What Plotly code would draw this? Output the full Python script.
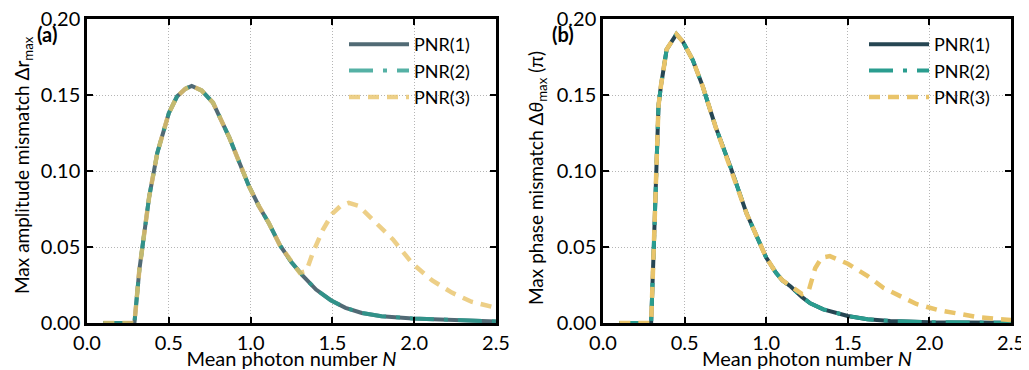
import plotly.graph_objects as go

# ---------------- data ----------------
# Panel (a): max amplitude mismatch
a_N12 = [0.10, 0.20, 0.29, 0.32, 0.35, 0.38, 0.43, 0.50, 0.55, 0.60, 0.64, 0.70, 0.77, 0.87,
         0.93, 0.99, 1.05, 1.11, 1.18, 1.25, 1.32, 1.40, 1.49, 1.58, 1.68, 1.80, 1.99, 2.20, 2.50]
a_pnr1 = [0.0, 0.0, 0.0, 0.035, 0.060, 0.083, 0.112, 0.138, 0.149, 0.154, 0.156, 0.153, 0.145, 0.122,
          0.106, 0.090, 0.077, 0.066, 0.051, 0.040, 0.031, 0.022, 0.015, 0.010, 0.0066, 0.0045, 0.003, 0.002, 0.001]
a_pnr2 = [0.0, 0.0, 0.0, 0.035, 0.060, 0.083, 0.112, 0.138, 0.149, 0.154, 0.156, 0.153, 0.145, 0.122,
          0.106, 0.090, 0.077, 0.066, 0.051, 0.040, 0.031, 0.022, 0.015, 0.010, 0.0066, 0.0045, 0.003, 0.002, 0.001]
a_N3 = [0.10, 0.20, 0.29, 0.32, 0.35, 0.38, 0.43, 0.50, 0.55, 0.60, 0.64, 0.70, 0.77, 0.87,
        0.93, 0.99, 1.05, 1.11, 1.18, 1.25, 1.30, 1.34, 1.38, 1.44, 1.50, 1.55, 1.60, 1.66,
        1.77, 1.87, 1.99, 2.11, 2.23, 2.35, 2.50]
a_pnr3 = [0.0, 0.0, 0.0, 0.035, 0.060, 0.083, 0.112, 0.138, 0.149, 0.154, 0.156, 0.153, 0.145, 0.122,
          0.106, 0.090, 0.077, 0.066, 0.051, 0.040, 0.033, 0.034, 0.046, 0.061, 0.072, 0.077, 0.079, 0.077,
          0.066, 0.055, 0.039, 0.028, 0.020, 0.014, 0.010]

# Panel (b): max phase mismatch (in units of pi)
b_N12 = [0.10, 0.20, 0.295, 0.31, 0.32, 0.325, 0.34, 0.355, 0.39, 0.45, 0.49, 0.55, 0.61, 0.69,
         0.78, 0.88, 1.00, 1.06, 1.10, 1.15, 1.22, 1.27, 1.35, 1.50, 1.62, 1.76, 2.00, 2.50]
b_pnr1 = [0.0, 0.0, 0.0, 0.046, 0.079, 0.112, 0.143, 0.156, 0.180, 0.190, 0.185, 0.173, 0.156, 0.129,
          0.103, 0.072, 0.043, 0.033, 0.028, 0.024, 0.017, 0.013, 0.009, 0.0046, 0.0025, 0.0013, 0.0005, 0.0001]
b_pnr2 = [0.0, 0.0, 0.0, 0.046, 0.079, 0.112, 0.143, 0.156, 0.180, 0.190, 0.185, 0.173, 0.156, 0.129,
          0.103, 0.072, 0.043, 0.033, 0.028, 0.024, 0.017, 0.013, 0.009, 0.0046, 0.0025, 0.0013, 0.0005, 0.0001]
b_N3 = [0.10, 0.20, 0.295, 0.31, 0.32, 0.325, 0.34, 0.355, 0.39, 0.45, 0.49, 0.55, 0.61, 0.69,
        0.78, 0.88, 1.00, 1.06, 1.10, 1.15, 1.22, 1.26, 1.30, 1.34, 1.39, 1.50, 1.62, 1.72,
        1.82, 1.92, 2.05, 2.17, 2.29, 2.43, 2.50]
b_pnr3 = [0.0, 0.0, 0.0, 0.046, 0.079, 0.112, 0.143, 0.156, 0.180, 0.190, 0.185, 0.173, 0.156, 0.129,
          0.103, 0.072, 0.043, 0.033, 0.028, 0.024, 0.019, 0.021, 0.036, 0.043, 0.044, 0.039, 0.031, 0.023,
          0.018, 0.0125, 0.0086, 0.006, 0.004, 0.0026, 0.002]

series_names = ["PNR(1)", "PNR(2)", "PNR(3)"]
x_ticks = [0.0, 0.5, 1.0, 1.5, 2.0, 2.5]
y_ticks = [0.00, 0.05, 0.10, 0.15, 0.20]
x_ticklabels = ["0.0", "0.5", "1.0", "1.5", "2.0", "2.5"]
y_ticklabels = ["0.00", "0.05", "0.10", "0.15", "0.20"]

# ---------------- styles ----------------
C1, C2, C3 = "#264653", "#2a9d8f", "#e9c46a"
FONT = "Lato"
styles = [
    dict(color=C1, width=4, dash="solid"),
    dict(color=C2, width=4, dash="24px,10px,4px,10px"),
    dict(color=C3, width=4.5, dash="11px,8px"),
]

# figure is drawn inside the page body's 8px margin
W, H = 1021, 362

fig = go.Figure()

panels = [
    ("x", "y", "legend", 0.8, [(a_N12, a_pnr1), (a_N12, a_pnr2), (a_N3, a_pnr3)], "a"),
    ("x2", "y2", "legend2", 1.0, [(b_N12, b_pnr1), (b_N12, b_pnr2), (b_N3, b_pnr3)], "b"),
]
for xa, ya, leg, op, data, tag in panels:
    for i, ((xs, ys), name) in enumerate(zip(data, series_names)):
        fig.add_trace(go.Scatter(
            x=xs, y=ys, mode="lines", name=name, xaxis=xa, yaxis=ya,
            legend=leg, legendgroup=f"{tag}{i}", opacity=op,
            line=dict(color=styles[i]["color"], width=styles[i]["width"], dash=styles[i]["dash"]),
        ))

axis_common = dict(
    showline=True, linecolor="black", linewidth=2.5, mirror="ticks",
    ticks="inside", ticklen=6, tickwidth=2, tickcolor="black", automargin=False,
    ticklabeloverflow="allow",
    showgrid=True, gridcolor="#b5b5b5", gridwidth=1, griddash="1px,2px",
    zeroline=False, tickfont=dict(family=FONT, size=20, color="black"),
)

xtitle = dict(text="Mean photon number <i>N</i>", font=dict(size=20), standoff=0)
ydom = [1 - 315 / H, 1 - 11 / H]

fig.update_layout(
    width=W, height=H,
    margin=dict(l=0, r=0, t=0, b=0),
    paper_bgcolor="white", plot_bgcolor="white",
    font=dict(family=FONT, color="black"),
    xaxis=dict(domain=[79 / W, 488 / W], range=[0, 2.5], tickvals=x_ticks, ticktext=x_ticklabels,
               anchor="y", title=xtitle, **axis_common),
    yaxis=dict(domain=ydom, range=[0, 0.2], tickvals=y_ticks, ticktext=y_ticklabels,
               anchor="x", **axis_common),
    xaxis2=dict(domain=[595 / W, 1003 / W], range=[0, 2.5], tickvals=x_ticks, ticktext=x_ticklabels,
                anchor="y2", title=xtitle, **axis_common),
    yaxis2=dict(domain=ydom, range=[0, 0.2], tickvals=y_ticks, ticktext=y_ticklabels,
                anchor="x2", **axis_common),
    legend=dict(x=336 / W, y=1 - 18 / H, xanchor="left", yanchor="top", bgcolor="rgba(0,0,0,0)",
                font=dict(family=FONT, size=18), itemwidth=60, tracegroupgap=0),
    legend2=dict(x=856 / W, y=1 - 18 / H, xanchor="left", yanchor="top", bgcolor="rgba(0,0,0,0)",
                 font=dict(family=FONT, size=18), itemwidth=60, tracegroupgap=0),
    showlegend=True,
)

fig.add_annotation(text="Max amplitude mismatch Δr<sub>max</sub>", xref="paper", yref="paper",
                   x=15 / W, y=1 - 157 / H, textangle=-90, showarrow=False,
                   font=dict(family=FONT, size=19), xanchor="center", yanchor="middle")
fig.add_annotation(text="Max phase mismatch Δ<i>θ</i><sub>max</sub> (π)", xref="paper", yref="paper",
                   x=529 / W, y=1 - 170 / H, textangle=-90, showarrow=False,
                   font=dict(family=FONT, size=19), xanchor="center", yanchor="middle")
fig.add_annotation(text="<b>(a)</b>", xref="paper", yref="paper", x=39 / W, y=1 - 26 / H,
                   showarrow=False, font=dict(family=FONT, size=20), xanchor="center", yanchor="middle")
fig.add_annotation(text="<b>(b)</b>", xref="paper", yref="paper", x=555 / W, y=1 - 26 / H,
                   showarrow=False, font=dict(family=FONT, size=20), xanchor="center", yanchor="middle")

fig.write_html("out.html")
